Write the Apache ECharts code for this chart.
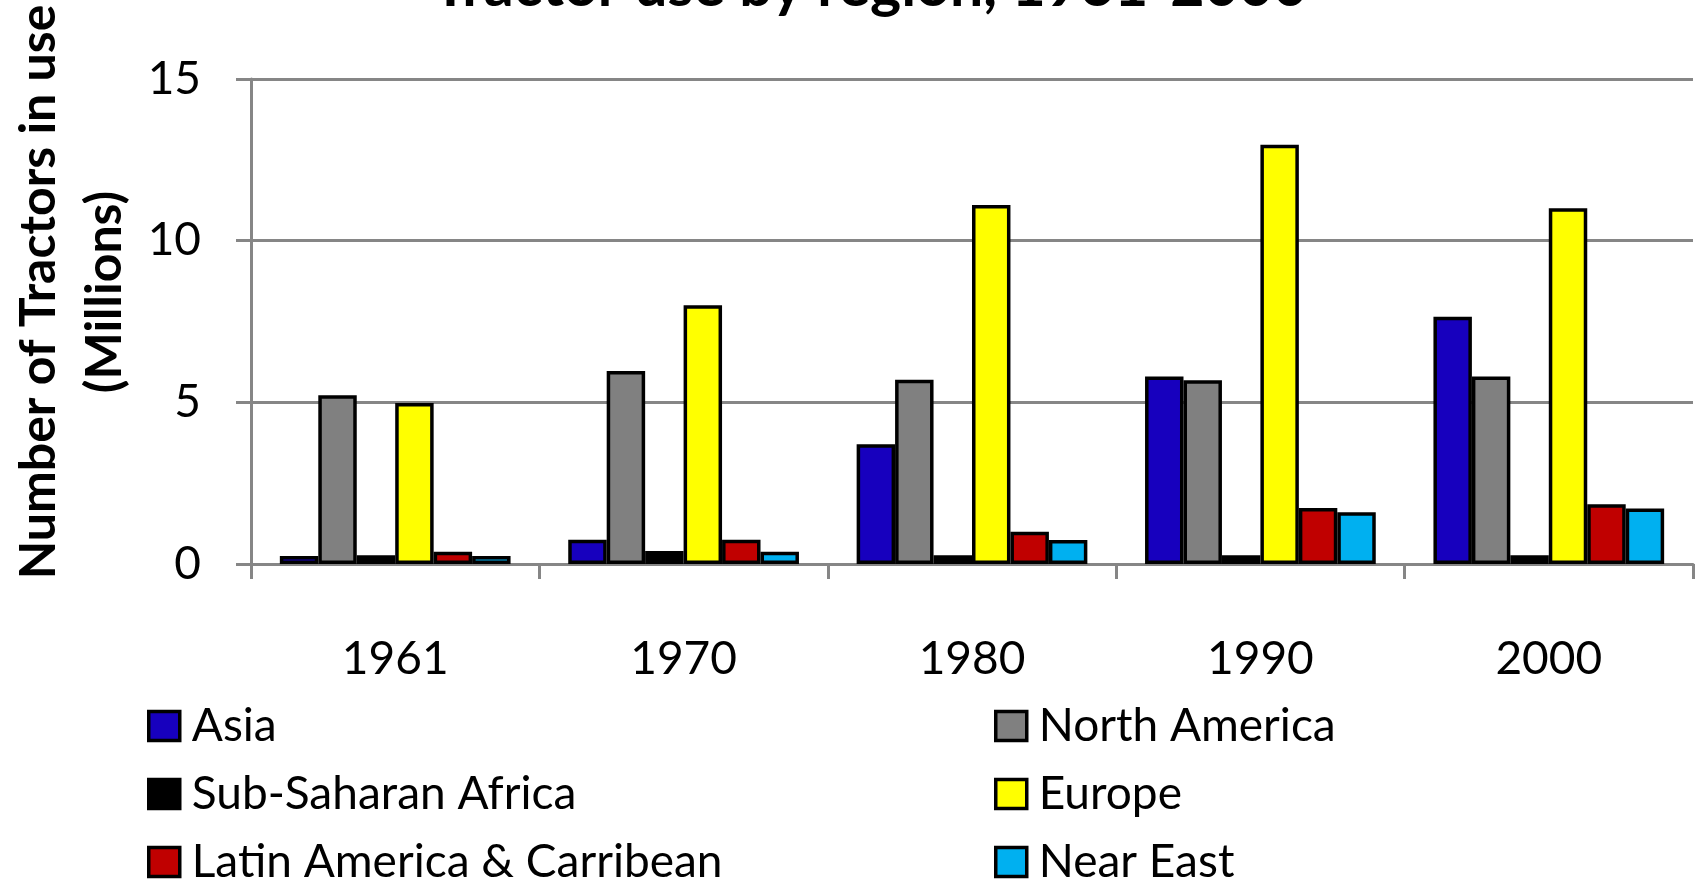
<!DOCTYPE html>
<html>
<head>
<meta charset="utf-8">
<script src="https://cdn.jsdelivr.net/npm/echarts@6/dist/echarts.min.js"></script>
<style>
html,body{margin:0;padding:0;background:#fff;}
#chart{width:1706px;height:883px;}
</style>
</head>
<body>
<div id="chart"></div>
<script>
const categories = ['1961', '1970', '1980', '1990', '2000'];
const seriesNames = ['Asia', 'North America', 'Sub-Saharan Africa', 'Europe', 'Latin America & Carribean', 'Near East'];
const asia = [0.25, 0.75, 3.7, 5.8, 7.65];
const northAmerica = [5.22, 5.97, 5.7, 5.68, 5.8];
const subSaharanAfrica = [0.27, 0.4, 0.27, 0.27, 0.27];
const europe = [4.98, 8.0, 11.1, 12.97, 11.0];
const latinAmerica = [0.38, 0.75, 1.0, 1.73, 1.85];
const nearEast = [0.25, 0.38, 0.74, 1.6, 1.72];
const yTicks = [0, 5, 10, 15];
const titleText = 'Tractor use by region, 1961-2000';
const yNameLines = ['Number of Tractors in use', '(Millions)'];

const colors = ['#1700BE', '#808080', '#000000', '#FFFF00', '#C00000', '#00B0F0'];
const values = [asia, northAmerica, subSaharanAfrica, europe, latinAmerica, nearEast];
const FONT = 'Lato';
const axisGray = '#868686';

const chart = echarts.init(document.getElementById('chart'), null, {renderer: 'canvas'});

const series = seriesNames.map((name, i) => ({
  name: name,
  type: 'bar',
  data: values[i],
  barGap: '0%',
  barCategoryGap: '20%',
  itemStyle: {color: colors[i], borderColor: '#000', borderWidth: 3.5},
  emphasis: {disabled: true},
  animation: false
}));

// legend layout: two columns, three rows (Asia, SSA, Latin | NA, Europe, Near East)
const legendCols = [147, 994];
const legendRows = [703, 771, 839];
const legends = seriesNames.map((name, i) => ({
  left: legendCols[i % 2],
  top: legendRows[Math.floor(i / 2)],
  padding: 0,
  itemWidth: 31,
  itemHeight: 29,
  icon: 'rect',
  selectedMode: false,
  data: [name],
  itemStyle: {borderColor: '#000', borderWidth: 3.5},
  textStyle: {fontFamily: FONT, fontSize: 46, color: '#000', lineHeight: 29, padding: [0, 0, 0, 7]}
}));

chart.setOption({
  animation: false,
  color: colors,
  grid: {left: 251, right: 13, top: 79, bottom: 319, containLabel: false},
  legend: legends,
  xAxis: {
    type: 'category',
    data: categories,
    boundaryGap: true,
    axisLine: {show: true, lineStyle: {color: axisGray, width: 3}},
    axisTick: {show: true, length: 15, lineStyle: {color: axisGray, width: 3}, alignWithLabel: false},
    axisLabel: {fontFamily: FONT, fontSize: 46, color: '#000', margin: 72},
    splitLine: {show: false}
  },
  yAxis: {
    type: 'value',
    min: yTicks[0],
    max: yTicks[yTicks.length - 1],
    interval: yTicks[1] - yTicks[0],
    axisLine: {show: true, lineStyle: {color: axisGray, width: 3}},
    axisTick: {show: true, length: 15, lineStyle: {color: axisGray, width: 3}},
    axisLabel: {fontFamily: FONT, fontSize: 46, color: '#000', margin: 50},
    splitLine: {show: true, lineStyle: {color: axisGray, width: 3}}
  },
  graphic: [
    {
      type: 'text',
      x: 870, y: 16,
      style: {text: titleText, font: 'bold 59px ' + FONT, fill: '#000', align: 'center', verticalAlign: 'bottom'},
      silent: true
    },
    {
      type: 'text',
      x: 72, y: 292,
      rotation: Math.PI / 2,
      style: {text: yNameLines.join('\n'), font: 'bold 50px ' + FONT, fill: '#000', align: 'center', verticalAlign: 'middle', lineHeight: 66},
      silent: true
    }
  ],
  series: series
});
</script>
</body>
</html>
